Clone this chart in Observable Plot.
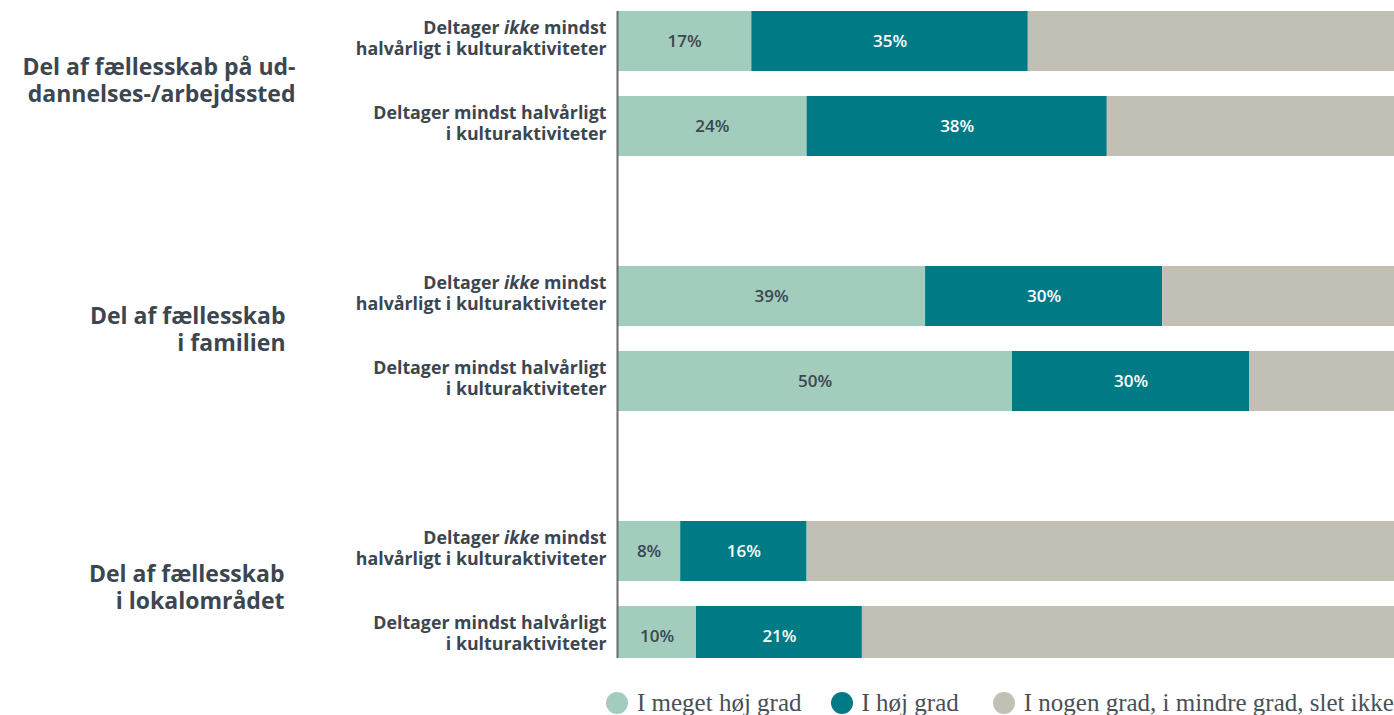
<!DOCTYPE html>
<html>
<head>
<meta charset="utf-8">
<script src="https://cdn.jsdelivr.net/npm/d3@7"></script>
<script src="https://cdn.jsdelivr.net/npm/@observablehq/plot@0.6"></script>
<style>
  html, body { margin: 0; padding: 0; background: #fff; overflow: hidden; }
  #chart svg { display: block; overflow: hidden; }
  .legend { display: flex; align-items: center; height: 30px; margin-top: 16px; padding-left: 606px;
            font-family: "Liberation Serif", serif; font-size: 25px; color: #4a4f55; white-space: nowrap; }
  .legend .item { display: flex; align-items: center; }
  .legend .sw { width: 22px; height: 22px; border-radius: 50%; margin-right: 9px; }
</style>
</head>
<body>
<div id="chart"></div>
<script>
// ---- data ----
const groups = [
  "Del af fællesskab på ud-\ndannelses-/arbejdssted",
  "Del af fællesskab\ni familien",
  "Del af fællesskab\ni lokalområdet"
];
const respondents = [
  "Deltager ikke mindst\nhalvårligt i kulturaktiviteter",
  "Deltager mindst halvårligt\ni kulturaktiviteter"
];
const series = ["I meget høj grad", "I høj grad", "I nogen grad, i mindre grad, slet ikke"];
const colors = ["#a2cdbc", "#007b86", "#c2c0b4"];
const labelColors = ["#3c4650", "#ffffff", "#3c4650"];
// values in bar order: group1 (ikke, mindst), group2 (...), group3 (...)
const veryHigh = [17, 24, 39, 50, 8, 10];
const high     = [35, 38, 30, 30, 16, 21];
const rest     = [48, 38, 31, 20, 76, 69];

// ---- build tables ----
const domainKeys = [];
groups.forEach((g, gi) => {
  respondents.forEach((r, ri) => domainKeys.push(`${gi}-${ri}`));
  if (gi < groups.length - 1) domainKeys.push(`gap${gi}`);
});
const barRows = [];
groups.forEach((g, gi) => respondents.forEach((r, ri) => barRows.push({key: `${gi}-${ri}`, label: r, idx: gi * 2 + ri})));
const groupRows = groups.map((g, gi) => ({key: `${gi}-0`, label: g}));
const seriesValues = [veryHigh, high, rest];
const data = [];
series.forEach((s, si) => barRows.forEach(b => data.push({key: b.key, series: s, si, value: seriesValues[si][b.idx]})));

const textColor = "#3c4650";
const H = 672;
const font = "'Open Sans', sans-serif";

// per-group label placement (style only)
const groupRight = [295, 285, 284];
const groupDy = [42.5 - 4.4, 42.5 - 10.2, 42.5 - 7.4];

const chart = Plot.plot({
  width: 1394,
  height: H,
  marginTop: 11,
  marginBottom: H - 658,
  marginLeft: 617,
  marginRight: 0,
  style: {fontFamily: font, background: "#fff"},
  x: {domain: [0, 100], range: [617, 1407], axis: null},
  y: {type: "band", domain: domainKeys, range: [11, 666], paddingInner: 25 / 85, paddingOuter: 0, axis: null},
  color: {domain: series, range: colors},
  marks: [
    Plot.barX(data, Plot.stackX({x: "value", y: "key", fill: "series", z: "series", clip: true})),
    Plot.text(data.filter(d => d.si < 2), Plot.stackX({
      x: "value", y: "key", z: "series",
      text: d => d.value + "%",
      fill: d => labelColors[d.si],
      fontSize: 17, fontWeight: 600
    })),
    Plot.ruleX([0], {stroke: "#6b6b6b", strokeWidth: 2}),
    Plot.text(barRows, {
      y: "key", text: "label", frameAnchor: "left", textAnchor: "end", dx: -11, dy: -3.5,
      lineHeight: 1.18, fontSize: 17.8, fontWeight: "bold", fill: textColor
    }),
    ...groupRows.map((g, gi) => Plot.text([g], {
      y: "key", text: "label", frameAnchor: "left", textAnchor: "end",
      dx: groupRight[gi] - 617, dy: groupDy[gi],
      lineHeight: 1.17, fontSize: 23, fontWeight: "bold", fill: textColor
    }))
  ]
});

// italicise "ikke"
d3.select(chart).selectAll("tspan").each(function() {
  const t = this.textContent;
  if (t.includes(" ikke ")) {
    const parts = t.split("ikke");
    const sel = d3.select(this);
    sel.text(null);
    sel.append("tspan").text(parts[0]);
    sel.append("tspan").attr("font-style", "italic").text("ikke");
    sel.append("tspan").text(parts[1]);
  }
});

document.getElementById("chart").appendChild(chart);

const legend = document.createElement("div");
legend.className = "legend";
const gaps = [29, 34, 0];
series.forEach((s, i) => {
  const item = document.createElement("div");
  item.className = "item";
  item.style.marginRight = gaps[i] + "px";
  const sw = document.createElement("span");
  sw.className = "sw";
  sw.style.background = colors[i];
  const lab = document.createElement("span");
  lab.textContent = s;
  item.appendChild(sw);
  item.appendChild(lab);
  legend.appendChild(item);
});
document.body.appendChild(legend);
</script>
</body>
</html>
